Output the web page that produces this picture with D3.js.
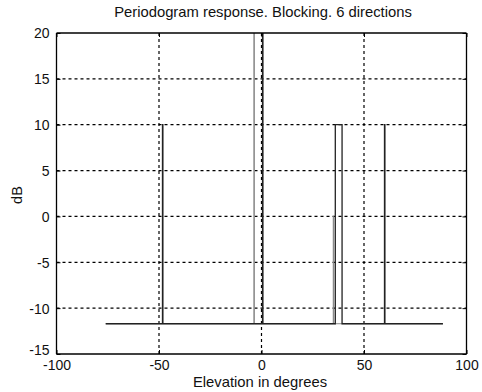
<!DOCTYPE html>
<html><head><meta charset="utf-8">
<script src="https://cdn.jsdelivr.net/npm/d3@7"></script>
<style>
body{margin:0;background:#fff;}
text{font-family:"Liberation Sans",Arial,sans-serif;fill:#111;}
</style></head>
<body><svg id="c" width="482" height="392"></svg>
<script>
const xTicks = [-100, -50, 0, 50, 100];
const yTicks = [-15, -10, -5, 0, 5, 10, 15, 20];
// Series A: dark line (floor with spikes)
const elevA = [-76, -48.3, -48.3, -48.1, -48.1, 0.5, 0.5, 0.7, 0.7, 36, 36, 39.3, 39.3, 60, 60, 60.2, 60.2, 88.5];
const dbA   = [-11.7, -11.7, 10, 10, -11.7, -11.7, 20, 20, -11.7, -11.7, 10, 10, -11.7, -11.7, 10, 10, -11.7, -11.7];
// Series B: lighter line
const elevB = [-76, -3.7, -3.7, -3.5, -3.5, 35, 35, 35.2, 35.2, 88.5];
const dbB   = [-11.7, -11.7, 20, 20, -11.7, -11.7, 0, 0, -11.7, -11.7];

const svg = d3.select("#c");
const L = 56.5, R = 466.5, T = 33, B = 354;
const x = d3.scaleLinear().domain([-100, 100]).range([L, R]);
const y = d3.scaleLinear().domain([-15, 20]).range([B, T]);
const fmt = d => String(d);

svg.append("defs").append("clipPath").attr("id","clip")
  .append("rect").attr("x",L).attr("y",T).attr("width",R-L).attr("height",B-T);

// grid
const g = svg.append("g");
g.selectAll(".gx").data(xTicks.filter(d=>d>-100&&d<100)).enter().append("line")
  .attr("x1",d=>x(d)).attr("x2",d=>x(d)).attr("y1",T).attr("y2",B)
  .attr("stroke","#000").attr("stroke-width",1.2).attr("stroke-dasharray","3,3");
g.selectAll(".gy").data(yTicks.filter(d=>d>-15&&d<20)).enter().append("line")
  .attr("y1",d=>y(d)).attr("y2",d=>y(d)).attr("x1",L).attr("x2",R)
  .attr("stroke","#000").attr("stroke-width",1.2).attr("stroke-dasharray","3,3");

const line = d3.line().x(d=>x(d[0])).y(d=>y(d[1]));
svg.append("path").datum(elevB.map((e,i)=>[e,dbB[i]])).attr("d",line)
  .attr("fill","none").attr("stroke","#888").attr("stroke-width",1)
  .attr("clip-path","url(#clip)");
svg.append("path").datum(elevA.map((e,i)=>[e,dbA[i]])).attr("d",line)
  .attr("fill","none").attr("stroke","#222").attr("stroke-width",1.3)
  .attr("clip-path","url(#clip)");

// axes
const xb = svg.append("g").attr("transform",`translate(0,${B})`)
  .call(d3.axisBottom(x).tickValues(xTicks).tickSize(-4).tickPadding(6).tickFormat(fmt));
const xt = svg.append("g").attr("transform",`translate(0,${T})`)
  .call(d3.axisTop(x).tickValues(xTicks).tickSize(-4).tickFormat(""));
const yl = svg.append("g").attr("transform",`translate(${L},0)`)
  .call(d3.axisLeft(y).tickValues(yTicks).tickSize(-4).tickPadding(7).tickFormat(fmt));
const yr = svg.append("g").attr("transform",`translate(${R},0)`)
  .call(d3.axisRight(y).tickValues(yTicks).tickSize(-4).tickFormat(""));
[xb,xt,yl,yr].forEach(a=>{
  a.selectAll("path").attr("stroke","#000").attr("stroke-width",1.3);
  a.selectAll("line").attr("stroke","#000");
  a.selectAll("text").style("font-size","14px").attr("fill","#111")
   .style("font-family","'Liberation Sans',Arial,sans-serif");
});
xb.selectAll("path").attr("d",`M${L},0H${R}`);
xt.selectAll("path").attr("d",`M${L},0H${R}`);
yl.selectAll("path").attr("d",`M0,${T}V${B}`);
yr.selectAll("path").attr("d",`M0,${T}V${B}`);
yl.selectAll("text").attr("dy","0.35em");
yl.selectAll(".tick text").filter(d=>d===-15).attr("dy","0.05em");

svg.append("text").attr("x",263).attr("y",17).attr("text-anchor","middle")
  .style("font-size","14.8px").text("Periodogram response. Blocking. 6 directions");
svg.append("text").attr("x",260).attr("y",387).attr("text-anchor","middle")
  .style("font-size","14.8px").text("Elevation in degrees");
svg.append("text").attr("transform","translate(22,195) rotate(-90)").attr("text-anchor","middle")
  .style("font-size","14.5px").text("dB");
</script></body></html>
